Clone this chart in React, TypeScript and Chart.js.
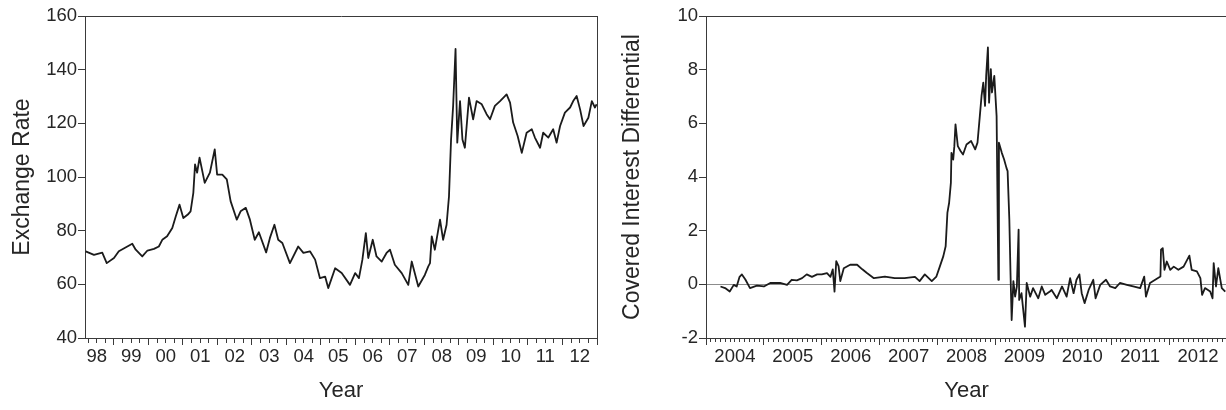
import React, { useEffect, useRef } from 'react';
import { Chart, registerables } from 'chart.js';

Chart.register(...registerables);

const FONT = '"Liberation Sans", Arial, Helvetica, sans-serif';
const TEXT = '#262626';
const AXIS = '#3a3a3a';
const LINE = '#1b1b1b';
const ZERO = '#8c8c8c';

// Left panel: exchange rate
const fxYears = [
  1998.18, 1998.42, 1998.66, 1998.79, 1999.0, 1999.14, 1999.53, 1999.63, 1999.82, 1999.97,
  2000.16, 2000.3, 2000.4, 2000.54, 2000.69, 2000.79, 2000.9, 2001.01, 2001.14, 2001.22,
  2001.3, 2001.35, 2001.41, 2001.48, 2001.63, 2001.78, 2001.92, 2001.99, 2002.14, 2002.27,
  2002.38, 2002.56, 2002.67, 2002.82, 2002.94, 2003.08, 2003.2, 2003.41, 2003.52, 2003.65,
  2003.76, 2003.88, 2004.1, 2004.34, 2004.49, 2004.68, 2004.83, 2004.97, 2005.12, 2005.21,
  2005.41, 2005.6, 2005.84, 2005.99, 2006.1, 2006.2, 2006.3, 2006.37, 2006.5, 2006.61,
  2006.76, 2006.9, 2007.0, 2007.14, 2007.34, 2007.53, 2007.63, 2007.82, 2008.01, 2008.11,
  2008.16, 2008.21, 2008.3, 2008.45, 2008.54, 2008.64, 2008.71, 2008.77, 2008.83, 2008.9,
  2008.95, 2009.03, 2009.1, 2009.17, 2009.29, 2009.41, 2009.51, 2009.66, 2009.8, 2009.9,
  2010.04, 2010.19, 2010.38, 2010.48, 2010.57, 2010.7, 2010.82, 2010.96, 2011.11, 2011.2,
  2011.35, 2011.44, 2011.59, 2011.73, 2011.83, 2011.93, 2012.07, 2012.22, 2012.31, 2012.41,
  2012.51, 2012.61, 2012.75, 2012.85, 2012.94, 2012.99,
];
const fxValues = [
  72.3, 71.0, 71.8, 67.9, 69.8, 72.3, 75.1, 72.9, 70.4, 72.6,
  73.2, 74.1, 76.6, 77.9, 81.0, 85.3, 89.7, 84.7, 86.0, 87.2,
  94.1, 104.7, 101.6, 107.2, 97.8, 101.6, 110.3, 100.9, 100.9, 99.1,
  91.0, 84.1, 87.2, 88.5, 84.1, 76.6, 79.4, 71.9, 77.3, 82.2,
  76.6, 75.4, 67.9, 74.1, 71.7, 72.3, 69.2, 62.3, 62.9, 58.6,
  66.0, 64.2, 59.8, 64.2, 62.3, 69.2, 79.1, 69.8, 76.6, 70.4,
  68.5, 71.7, 72.9, 67.3, 64.2, 59.8, 68.5, 59.2, 63.5, 66.7,
  67.9, 77.9, 72.9, 84.1, 76.6, 82.2, 92.8, 114.0, 126.5, 147.7,
  112.8, 128.3, 114.0, 110.9, 129.6, 121.5, 128.3, 127.1, 123.4, 121.5,
  126.5, 128.3, 130.8, 127.7, 120.3, 115.3, 109.0, 116.5, 117.8, 114.7,
  110.9, 116.5, 114.7, 117.8, 112.8, 119.0, 124.0, 125.9, 128.3, 130.2,
  125.2, 119.0, 122.1, 128.3, 125.9, 127.1,
];
const fxTickLabels = ['98', '99', '00', '01', '02', '03', '04', '05', '06', '07', '08', '09', '10', '11', '12'];
const fxFirstYear = 1998;

// Right panel: covered interest differential
const cidYears = [
  2004.25, 2004.33, 2004.41, 2004.48, 2004.53, 2004.58, 2004.62, 2004.68, 2004.76, 2004.88,
  2005.0, 2005.11, 2005.28, 2005.4, 2005.48, 2005.57, 2005.66, 2005.74, 2005.83, 2005.92,
  2006.0, 2006.09, 2006.15, 2006.19, 2006.22, 2006.25, 2006.29, 2006.32, 2006.38, 2006.49,
  2006.61, 2006.7, 2006.78, 2006.9, 2007.09, 2007.26, 2007.43, 2007.61, 2007.69, 2007.78,
  2007.9, 2007.98, 2008.04, 2008.1, 2008.14, 2008.17, 2008.2, 2008.23, 2008.24, 2008.27,
  2008.29, 2008.31, 2008.35, 2008.4, 2008.44, 2008.5, 2008.58, 2008.65, 2008.69, 2008.73,
  2008.76, 2008.79, 2008.82, 2008.84, 2008.87, 2008.89, 2008.92, 2008.94, 2008.98, 2009.02,
  2009.05, 2009.06, 2009.11, 2009.15, 2009.19, 2009.21, 2009.24, 2009.26, 2009.28, 2009.31,
  2009.34, 2009.37, 2009.4, 2009.41, 2009.45, 2009.51, 2009.54, 2009.6, 2009.65, 2009.74,
  2009.8, 2009.86, 2009.94, 2009.97, 2010.06, 2010.15, 2010.23, 2010.29, 2010.35, 2010.4,
  2010.45, 2010.49, 2010.54, 2010.61, 2010.69, 2010.73, 2010.81, 2010.91, 2010.98, 2011.07,
  2011.15, 2011.27, 2011.38, 2011.5, 2011.57, 2011.6, 2011.67, 2011.76, 2011.85, 2011.86,
  2011.89, 2011.92, 2011.96, 2012.02, 2012.08, 2012.16, 2012.25, 2012.35, 2012.39, 2012.48,
  2012.54, 2012.57, 2012.62, 2012.71, 2012.75, 2012.77, 2012.81, 2012.85, 2012.91, 2012.97,
];
const cidValues = [
  -0.08, -0.14, -0.27, -0.02, -0.08, 0.28, 0.37, 0.18, -0.14, -0.05,
  -0.08, 0.05, 0.05, -0.02, 0.17, 0.15, 0.23, 0.37, 0.28, 0.37,
  0.37, 0.42, 0.28, 0.56, -0.27, 0.86, 0.68, 0.12, 0.6, 0.73,
  0.73, 0.56, 0.42, 0.23, 0.29, 0.23, 0.23, 0.28, 0.12, 0.37,
  0.12, 0.29, 0.67, 1.05, 1.42, 2.66, 3.04, 3.78, 4.9, 4.65,
  5.15, 5.96, 5.15, 4.96, 4.84, 5.21, 5.34, 5.03, 5.28, 6.27,
  7.02, 7.52, 6.65, 7.77, 8.83, 6.77, 8.02, 7.15, 7.77, 6.27,
  0.17, 5.28, 4.9, 4.65, 4.34, 4.22, 2.41, 0.42, -1.33, 0.12,
  -0.46, -0.08, 2.04, -0.58, -0.33, -1.58, 0.05, -0.46, -0.14, -0.52,
  -0.08, -0.39, -0.27, -0.21, -0.52, -0.08, -0.46, 0.23, -0.33, 0.17,
  0.37, -0.33, -0.7, -0.21, 0.17, -0.52, -0.02, 0.17, -0.08, -0.14,
  0.05, -0.02, -0.08, -0.14, 0.29, -0.46, 0.05, 0.17, 0.29, 1.29,
  1.35, 0.54, 0.85, 0.54, 0.66, 0.54, 0.66, 1.07, 0.54, 0.48,
  0.23, -0.39, -0.14, -0.27, -0.52, 0.79, -0.08, 0.6, -0.14, -0.27,
];
const cidTickLabels = ['2004', '2005', '2006', '2007', '2008', '2009', '2010', '2011', '2012'];
const cidFirstYear = 2004;

interface PanelOpts {
  years: number[];
  values: number[];
  xMin: number;
  xMax: number;
  perYear: number;
  minorLen: number;
  labels: string[];
  firstYear: number;
  yMin: number;
  yMax: number;
  yStep: number;
  yTitle: string;
  yAxisWidth: number;
  padTop: number;
  padRight: number;
  zeroLine: boolean;
  rightBorder: boolean;
}

function buildConfig(o: PanelOpts): any {
  const tickValues: number[] = [];
  const startK = Math.ceil(o.xMin * o.perYear - 1e-6);
  const endK = Math.floor(o.xMax * o.perYear + 1e-6);
  for (let k = startK; k <= endK; k++) tickValues.push(k / o.perYear);
  const kOf = (v: number) => Math.round(v * o.perYear);
  const phase = (v: number) => ((kOf(v) % o.perYear) + o.perYear) % o.perYear;
  const isMajor = (v: number) => phase(v) === 0;
  const isLabel = (v: number) => phase(v) === o.perYear / 2;

  const points = o.years.map((x, i) => ({ x, y: o.values[i] }));

  return {
    type: 'line',
    data: {
      datasets: [
        {
          data: points,
          borderColor: LINE,
          borderWidth: 1.8,
          borderJoinStyle: 'round',
          pointRadius: 0,
          tension: 0,
          fill: false,
        },
      ],
    },
    options: {
      animation: false,
      responsive: false,
      devicePixelRatio: 1,
      events: [],
      layout: { padding: { left: 0, top: o.padTop, right: o.padRight, bottom: 0 } },
      plugins: { legend: { display: false }, tooltip: { enabled: false }, title: { display: false } },
      scales: {
        x: {
          type: 'linear',
          position: 'bottom',
          min: o.xMin,
          max: o.xMax,
          afterBuildTicks: (s: any) => {
            s.ticks = tickValues.map((v) => ({ value: v }));
          },
          afterFit: (s: any) => {
            s.height = 72;
          },
          border: { display: true, color: AXIS, width: 1 },
          grid: {
            drawOnChartArea: false,
            drawTicks: true,
            tickLength: 7,
            tickColor: AXIS,
            tickWidth: 1,
            tickBorderDash: (ctx: any) => (isMajor(tickValues[ctx.index] ?? 0) ? [] : [o.minorLen, 30]),
          },
          ticks: {
            autoSkip: false,
            maxRotation: 0,
            minRotation: 0,
            padding: 1,
            color: TEXT,
            font: { family: FONT, size: 18.5 },
            callback: (v: number) => {
              if (!isLabel(v)) return '';
              const idx = Math.floor(v) - o.firstYear;
              return o.labels[idx] ?? '';
            },
          },
          title: {
            display: true,
            text: 'Year',
            color: TEXT,
            font: { family: FONT, size: 22 },
            padding: { top: 0, bottom: 6 },
          },
        },
        x2: {
          type: 'linear',
          position: 'top',
          display: true,
          ticks: { display: false },
          grid: { drawOnChartArea: false, drawTicks: false },
          border: { display: true, color: AXIS, width: 1 },
          afterFit: (s: any) => {
            s.height = 0;
          },
        },
        y: {
          type: 'linear',
          position: 'left',
          min: o.yMin,
          max: o.yMax,
          afterFit: (s: any) => {
            s.width = o.yAxisWidth;
          },
          border: { display: true, color: AXIS, width: 1 },
          grid: {
            drawOnChartArea: o.zeroLine,
            drawTicks: true,
            tickLength: 7,
            tickColor: AXIS,
            lineWidth: 1,
            color: (ctx: any) => (o.zeroLine && ctx.tick && ctx.tick.value === 0 ? ZERO : 'rgba(0,0,0,0)'),
          },
          ticks: {
            stepSize: o.yStep,
            padding: 1,
            color: TEXT,
            font: { family: FONT, size: 18.5 },
          },
          title: {
            display: true,
            text: o.yTitle,
            color: TEXT,
            font: { family: FONT, size: 23 },
            padding: { top: 9, bottom: 0 },
          },
        },
        y2: {
          type: 'linear',
          position: 'right',
          display: o.rightBorder,
          ticks: { display: false },
          grid: { drawOnChartArea: false, drawTicks: false },
          border: { display: true, color: AXIS, width: 1 },
          afterFit: (s: any) => {
            s.width = 0;
          },
        },
      },
    },
  };
}

export default function App() {
  const leftRef = useRef<HTMLCanvasElement | null>(null);
  const rightRef = useRef<HTMLCanvasElement | null>(null);

  useEffect(() => {
    if (!leftRef.current || !rightRef.current) return;
    const left = new Chart(
      leftRef.current,
      buildConfig({
        years: fxYears,
        values: fxValues,
        xMin: 1998.16,
        xMax: 2013.0,
        perYear: 4,
        minorLen: 4,
        labels: fxTickLabels,
        firstYear: fxFirstYear,
        yMin: 40,
        yMax: 160,
        yStep: 20,
        yTitle: 'Exchange Rate',
        yAxisWidth: 85,
        padTop: 16,
        padRight: 13,
        zeroLine: false,
        rightBorder: true,
      })
    );
    const right = new Chart(
      rightRef.current,
      buildConfig({
        years: cidYears,
        values: cidValues,
        xMin: 2004.0,
        xMax: 2013.0,
        perYear: 12,
        minorLen: 3,
        labels: cidTickLabels,
        firstYear: cidFirstYear,
        yMin: -2,
        yMax: 10,
        yStep: 2,
        yTitle: 'Covered Interest Differential',
        yAxisWidth: 96,
        padTop: 16,
        padRight: 13,
        zeroLine: true,
        rightBorder: true,
      })
    );
    return () => {
      left.destroy();
      right.destroy();
    };
  }, []);

  return (
    <div
      style={{
        position: 'absolute',
        left: 0,
        top: 0,
        width: 1226,
        height: 410,
        overflow: 'hidden',
        background: '#ffffff',
      }}
    >
      <canvas
        ref={leftRef}
        width={610}
        height={410}
        style={{ position: 'absolute', left: 0, top: 0, width: 610, height: 410 }}
      />
      <canvas
        ref={rightRef}
        width={630}
        height={410}
        style={{ position: 'absolute', left: 610, top: 0, width: 630, height: 410 }}
      />
    </div>
  );
}
